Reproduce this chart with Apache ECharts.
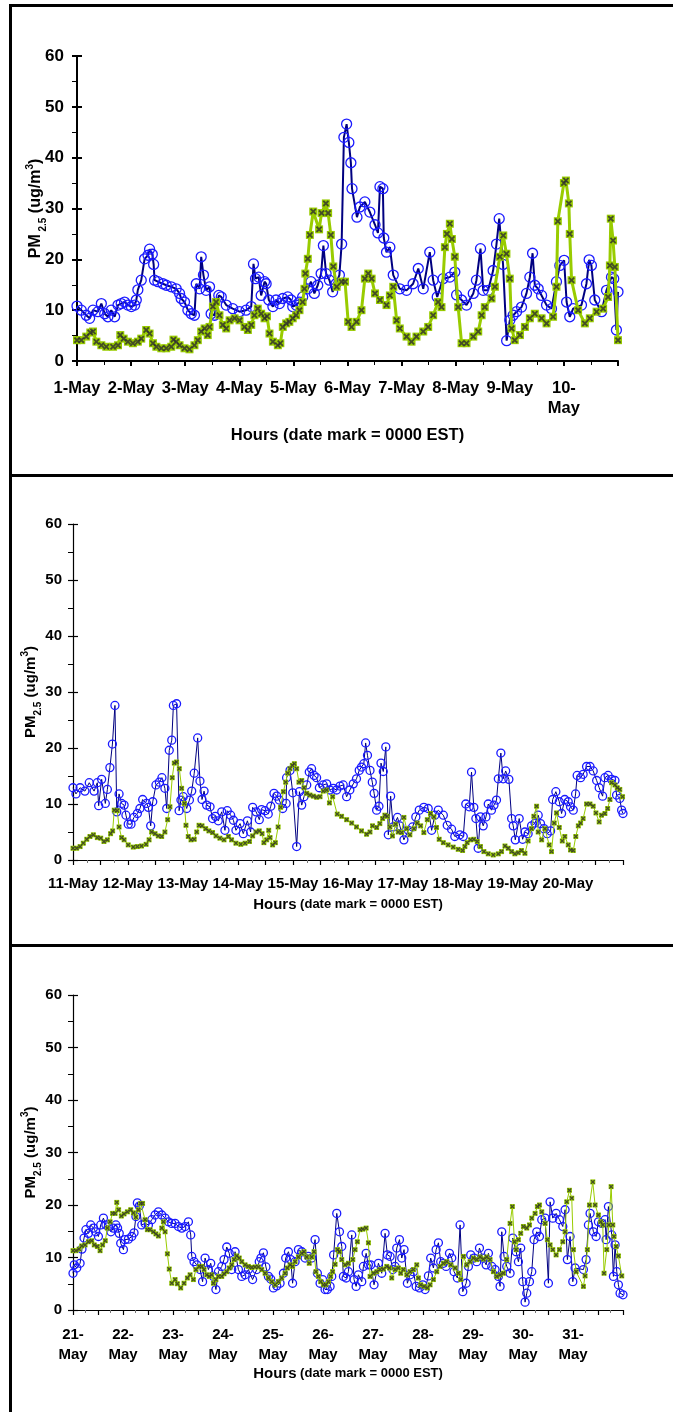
<!DOCTYPE html>
<html><head><meta charset="utf-8">
<script src="https://cdn.jsdelivr.net/npm/echarts@6/dist/echarts.min.js"></script>
<style>html,body{margin:0;padding:0;background:#fff}#c{width:673px;height:1412px}</style>
</head><body><div id="c"></div>
<script>
// ---- tick labels ----
const p1DayLabels = ['1-May','2-May','3-May','4-May','5-May','6-May','7-May','8-May','9-May','10-\nMay'];
const p2DayLabels = ['11-May','12-May','13-May','14-May','15-May','16-May','17-May','18-May','19-May','20-May'];
const p3DayLabels = ['21-\nMay','22-\nMay','23-\nMay','24-\nMay','25-\nMay','26-\nMay','27-\nMay','28-\nMay','29-\nMay','30-\nMay','31-\nMay'];
const yTickValues = [0,10,20,30,40,50,60];

// ---- readings: [hour since first date mark, PM2.5 ug/m3] ----
const p1Blue = [[0,10.8],[1.9,10],[4.1,9],[5.6,8.4],[7.1,10],[9.3,9.7],[10.8,11.3],[12.3,9.3],[13.7,8.7],[15.2,10],[16.7,8.7],[18.2,11],[19.6,11.3],[21.1,11.6],[22.6,11],[24.1,10.7],[25.6,11],[26.3,12],[27,14],[28.5,15.9],[30,20.1],[31.5,20.8],[32.2,22],[33.4,21],[34,19],[34.4,15.9],[35.9,15.6],[38.1,15.2],[39.6,14.9],[41.8,14.6],[44,14.2],[45.5,13.3],[46.2,12.3],[47.7,11.6],[49.2,10],[50.7,9.3],[52.1,9],[52.9,15.2],[54.4,14.2],[55.1,20.5],[56.1,16.9],[57.3,13.9],[58.8,14.6],[59.5,9.3],[61,9],[62.9,12.9],[64,12.6],[66.2,11],[69.1,10.3],[72.1,9.7],[75,10],[77.3,10.7],[78.3,19.1],[79.2,16.2],[80.6,16.5],[81.7,12.9],[83.2,15.6],[83.9,15.2],[85.1,12],[86.9,10.7],[88.3,12],[89.8,11.3],[91.3,12.3],[93.5,12.6],[95,12],[95.7,10.7],[97.2,11],[98.7,11.6],[100.1,12.6],[102.4,14.2],[103.8,15.6],[105.3,13.3],[106.8,14.9],[108.3,17.2],[109.3,22.7],[110.5,17.2],[112,15.9],[113.4,13.6],[114.9,15.2],[116.4,16.9],[117.4,23],[118.4,44],[119.6,46.6],[120.6,43],[121.5,39],[122,33.9],[124.2,28.3],[125.5,30.3],[127.7,31.3],[129.9,29.3],[132.2,26.8],[133.5,25.2],[134.4,34.3],[135.7,33.9],[136.1,24.2],[137.3,21.4],[138.8,22.4],[140.3,16.9],[143.2,14.2],[146.2,13.9],[149.1,15.2],[151.4,18.2],[153.6,14.2],[156.5,21.4],[158,15.9],[159.8,12.6],[162.4,16.2],[165.4,16.5],[167.6,17.5],[168.4,13],[170.6,12],[172.8,11],[175.8,13.3],[177.2,15.9],[179,22.1],[180.2,13.9],[182.4,13.9],[184.6,17.8],[186.1,23],[187.3,28],[189,19],[190.6,4],[192,8],[193.5,9],[195,9.7],[197.2,10.6],[199.4,13.3],[200.9,16.5],[202.1,21.2],[203.1,14.9],[204.6,14.2],[206.1,12.9],[208.3,11],[210.5,10.3],[212.7,15.6],[214.2,18.8],[216.1,19.8],[217.2,11.6],[218.6,8.7],[220.1,10.3],[223.8,11],[226,15.2],[227.2,19.9],[228.2,18.8],[229.7,12],[232.7,9.7],[234.9,13.9],[237.1,16.5],[238.1,16.2],[239.3,6.1],[240,13.6]];
const p1Green = [[0,4.1],[1.9,4.1],[4.1,4.8],[5.9,5.6],[7.1,5.8],[8.6,3.8],[10.8,3.1],[13,2.8],[16,2.8],[18.2,3.1],[19.2,5.1],[20.7,4.4],[22.6,3.8],[24.8,3.5],[27,3.8],[28.5,4.4],[30.7,6.1],[32.2,5.4],[33.7,3.5],[35.2,2.8],[37.4,2.5],[39.6,2.5],[41.8,2.8],[42.8,4.2],[44,3.8],[45.5,3.1],[47.7,2.5],[49.9,2.3],[52.1,3.1],[53.6,4.1],[55.1,5.8],[56.6,6.4],[58,5.1],[58.8,6.7],[60.3,10.7],[61.7,11.6],[63.2,9],[64.7,7.1],[66.2,6.4],[67.7,8],[69.9,8.4],[72.1,8],[74.3,6.7],[75.8,6.1],[77.3,7.1],[78.7,9],[80.2,10.3],[81.7,9.3],[83.2,8.4],[84.3,8.8],[85.4,5.4],[86.9,3.8],[89.1,3.1],[90.2,3.5],[91.3,6.7],[92.8,7.4],[94.2,7.7],[95.7,8.4],[97.2,9],[98.7,10],[100.1,11.6],[100.9,14.2],[101.3,17.2],[102.4,20.1],[103.3,24.8],[104.8,29.4],[107.4,25.9],[108.5,29.1],[110.4,31],[111.4,29.1],[112.6,24.8],[113.7,18.6],[115.2,14.6],[117.4,15.6],[118.9,15.6],[120.3,7.7],[121.8,6.7],[124,7.7],[126.2,10],[127.7,16.2],[129.2,17.2],[130.7,16.2],[132.2,13.3],[134.4,12],[137.3,11],[138.8,12.9],[140.3,14.6],[141.8,8],[143.2,6.4],[146.2,4.8],[148.4,3.8],[150.6,4.8],[153.6,5.8],[155.8,6.7],[158,9],[160.2,11.6],[161.7,10.6],[163.2,22.4],[164.1,25],[165.4,27],[166.3,24],[167.6,20.5],[169.1,10.6],[170.6,3.5],[172.8,3.5],[175.8,4.8],[178,5.8],[179.5,9],[180.9,10.6],[183.9,12.3],[185.4,14.6],[187.6,20.5],[189.1,24.7],[190.5,21.1],[192,16.2],[192.8,6.4],[194.2,4.1],[196.5,5.1],[198.7,6.7],[200.9,8.4],[203.1,9.3],[206.1,8.4],[208.3,7.4],[211.2,8.7],[212.7,14.6],[213.3,27.5],[216,35],[216.9,35.5],[218.2,31],[218.6,25],[219.4,15.9],[222.3,10],[225.3,7.4],[227.5,8.4],[230.5,9.7],[233.4,10.3],[235.6,12.6],[236.4,18.8],[236.8,28],[237.8,23.7],[238.6,18.5],[240,4.1]];

const p2Blue = [[0,12.9],[1.3,11.8],[3.1,12.9],[5.2,12.3],[7.1,13.8],[9.2,12.3],[10.6,13.8],[11.2,9.7],[12.5,14.4],[14.1,10.1],[15,12.6],[16.1,16.5],[17.2,20.7],[18.3,27.6],[19.1,8.6],[20.1,11.8],[21.2,10.1],[22.3,9.8],[23.1,8],[24.1,6.4],[25.3,6.4],[26.6,7.6],[28.1,8.3],[29.2,9.2],[30.4,10.8],[32.1,10.1],[32.9,9.4],[33.9,6.1],[34.8,10.4],[36.2,13.4],[37.7,13.9],[38.8,14.7],[40.1,12.8],[40.9,9.2],[42,19.6],[43.1,21.4],[43.8,27.6],[45.2,27.9],[46.3,8.8],[47.1,10.7],[48.1,11.3],[49.6,9.2],[50.8,10.7],[51.8,12.3],[52.9,15.5],[54.4,21.8],[55.4,14.1],[56.3,10.8],[57.2,12.3],[58.3,9.8],[59.8,9.5],[60.9,7.4],[62.1,7.8],[63.4,7],[64.9,8.6],[66.3,5.3],[67.3,8.8],[68.8,8],[70,7.1],[71.1,5.3],[72.9,6.5],[74.3,4.7],[76.1,7],[77.5,5],[78.4,9.4],[79.9,8.6],[81.3,7.2],[82.3,9],[83.8,8.8],[85.2,8.2],[86.3,9.6],[87.7,11.9],[88.9,11.4],[90,10.7],[91.5,9.2],[93,10.1],[93.2,14.7],[94.7,16],[95.9,12],[97.6,2.4],[98.8,12.2],[99.8,9.8],[100.8,11.3],[102,13.4],[103.1,15.7],[104.1,16.3],[105.2,15.1],[106.3,14.7],[107.5,12.9],[109.2,13.4],[110.7,13.6],[112.1,12.5],[113.6,12.8],[115,12.5],[116.5,13.2],[117.9,13.4],[119.4,11.3],[120.8,12.5],[122.3,13.6],[123.7,14.5],[124.9,16],[125.9,16.6],[126.9,17.2],[127.7,20.9],[128.5,18.7],[129.6,16],[130.6,13.9],[131.4,11.9],[132.5,8.9],[133.5,9.6],[134.4,17.3],[135.4,15.8],[136.5,20.2],[137.6,4.5],[138.6,11.4],[139.7,5.9],[141.6,7.6],[142.6,6.1],[144.4,3.6],[146.3,5.3],[148.2,5.9],[149.6,7.7],[151.1,8.9],[153.1,9.4],[155,9.2],[156.5,5.3],[157.9,8],[159.4,8.9],[161.6,8],[163.3,6.2],[165.2,5.5],[166.6,4.2],[168.8,4.5],[170.3,4.2],[171.4,10],[172.9,9.5],[173.9,15.7],[174.9,9.4],[175.8,7.4],[176.8,2.1],[177.8,7.7],[179,6.1],[180.2,7.7],[181.2,10],[182.6,8.9],[183.7,9.8],[184.8,10.7],[185.6,14.5],[186.7,19.1],[187.7,14.5],[188.8,15.9],[190.2,14.4],[191.4,7.4],[192.1,6.1],[193,3.6],[194.7,7.4],[196.2,3.7],[197.2,5],[198.6,4.7],[200.1,6.1],[201.6,6.6],[203,8],[204,6.5],[205.5,5.6],[206.9,4.7],[208.4,5.2],[209.3,10.8],[210.7,12.2],[212.2,10.4],[213.2,8.3],[214.6,10.8],[216.1,10.4],[217.1,9.5],[218.3,8.9],[219.3,11.8],[220,15.1],[221.5,14.7],[222.6,15.3],[224.1,16.7],[225.6,16.7],[227,15.9],[228.5,14.2],[229.6,12.9],[231.1,11.4],[232.1,14.7],[233.5,15.1],[235,14.4],[236.5,14.2],[237.2,11.6],[238.6,11],[239.4,8.9],[240,8.3]];
const p2Green = [[0,2.1],[1.6,2.1],[3.1,2.4],[4.5,3],[6,3.7],[7.4,4.2],[8.9,4.5],[10.6,4],[12.1,3.9],[13.5,3.3],[15,3.6],[16.4,4.7],[17.3,5.2],[18,8.9],[19.3,8.8],[20.1,5.9],[21.2,4],[22.3,3.6],[24.1,2.7],[26.3,2.3],[28.1,2.4],[29.9,2.5],[31.9,2.8],[33.2,3.6],[34.3,5],[35.8,4.7],[37.2,4.3],[38.7,4.2],[40.1,5],[41.3,7.2],[42.3,9.5],[43.3,14.7],[44.2,17.3],[45.2,17.5],[46.4,16.3],[47.4,12.8],[48.6,10.1],[49.3,6.2],[50.3,4.2],[51.5,3.6],[52.9,3.7],[54,5],[55,6.2],[56.3,6.1],[57.9,5.6],[59.3,5.2],[60.9,4.9],[62.4,4.3],[64.1,3.9],[65.9,3.6],[67.8,4.2],[69.2,3.6],[71.1,3],[73.2,2.8],[75.1,3],[77,3.3],[78.4,4.3],[79.9,5],[81.3,5.2],[82.5,4.7],[83.3,3.1],[84.5,3.6],[85.4,5.3],[86,4],[87.1,2.7],[88.3,3.1],[89.5,5.9],[90.6,9.4],[91.8,12.2],[92.8,13.9],[93.7,15.5],[94.7,16.3],[95.7,16.9],[96.6,17.2],[97.6,16.3],[98.6,13.9],[99.8,14.2],[100.8,12.9],[102,11.9],[103.4,11.6],[104.9,11.4],[106.3,11.2],[107.8,11.3],[109.2,12.3],[110.7,12.5],[111.9,10.2],[113.3,11.3],[115.3,8.2],[117.2,7.8],[119.4,7.2],[121.6,6.6],[123.7,5.9],[125.9,5.2],[128.1,4.6],[129.6,5],[130.7,6.1],[132.5,5.8],[133.9,6.5],[135.1,7.4],[136.1,8],[137.1,7.8],[138.3,5.9],[139.4,4.3],[140.8,6.4],[141.9,5],[143.4,4.9],[144.4,7.6],[145.6,5.6],[147,4.5],[148.8,5.6],[150.2,6.6],[151.7,6.1],[153.1,4.9],[154.6,7.2],[156,8.3],[157.5,7.7],[158.6,5.8],[159.8,3.7],[161.6,3.1],[163.7,2.7],[165.9,2.3],[168.1,1.9],[170,1.7],[171,2.4],[172,3.1],[173.5,3.6],[174.9,3.7],[176.4,3.3],[177.8,2.4],[179.3,1.5],[181.2,1.1],[183.4,0.9],[185.6,1.1],[187,1.5],[188.5,2.5],[189.9,2.1],[191.4,1.5],[192.8,1.1],[194.3,1.3],[195.7,1.7],[197.2,1.2],[198.6,3.4],[200.1,5.6],[201.1,7.8],[202.3,9.6],[203,5],[204.5,3.6],[205.9,5.6],[207.8,2.7],[208.8,1.5],[210,6.6],[211,8.4],[212.2,5.8],[213.5,3.4],[214.6,4.2],[216.1,2.7],[217.1,1.8],[218.3,1.7],[219.4,4.2],[220.5,6.1],[221.5,6.6],[222.6,7.4],[224.1,10],[225.6,10],[227,9.6],[228.2,8.4],[229.6,6.8],[230.6,8],[232.1,8.3],[233.3,9.2],[234.3,10.8],[235,13.8],[236.5,13.4],[237.5,12.9],[238.6,12.6],[239.8,11.3]];

const p3Blue = [[0,7],[0.6,8.6],[1.8,8],[3.4,8.9],[4.3,11.6],[5.3,13.7],[6.2,15.3],[7.4,14.6],[8.5,16.2],[9.8,15.6],[10.9,14.9],[12.2,14],[13.3,16.2],[14.6,17.5],[15.8,16.2],[17,15.9],[18.2,14.9],[19.4,15.6],[20.6,16.2],[21.4,15.6],[22.2,14.6],[22.9,12.7],[24.2,11.5],[25,13.4],[26.6,13.5],[28.2,14],[29.3,14.7],[30.2,17.8],[30.9,20.4],[31.8,19.8],[33,16.2],[34.6,16.5],[36.2,16.2],[37.8,17.2],[39.4,18.1],[41,18.7],[42.6,18.1],[44.2,17.5],[45.8,16.8],[47.4,16.5],[49,16.5],[50.6,15.9],[52.2,15.6],[53.8,15.9],[55.4,16.8],[56.5,14.3],[57,10.2],[58.1,9.2],[59.4,8.6],[61,7.7],[62.2,5.4],[63.4,9.9],[65,7.7],[66.1,8.9],[67.4,6.4],[68.6,3.9],[69.8,7.3],[71.4,8.3],[72.5,9.6],[73.8,12],[75,10.8],[76.2,7.7],[77.8,11.1],[79.4,7.7],[81,6.4],[82.6,6.7],[84.2,7.7],[86.2,5.8],[88.2,7.7],[89.4,9.2],[90.2,9.9],[91.4,10.9],[92.6,8.2],[93.8,6.4],[94.9,5.9],[96.2,4.2],[97.8,4.6],[99.4,5.1],[101,7],[102.1,9.9],[103.4,11.1],[104.5,9.6],[105.4,5.1],[106.6,9.2],[108.2,11.5],[109.8,11.1],[111.4,9.9],[113,10.2],[114.6,9.9],[116.2,13.4],[117.3,7],[118.6,5.1],[119.8,5.8],[121,3.9],[122.1,3.9],[123.4,4.5],[124.2,6.4],[125.1,10.5],[126.6,18.4],[127.9,14.9],[129,12.1],[129.8,6.4],[131.1,6.1],[132.2,7.3],[133.8,14.3],[134.9,5.8],[135.9,4.5],[137,6.7],[138.6,5.4],[139.4,8.3],[140.7,10.8],[141.8,8.6],[142.9,8.6],[144.5,4.8],[146.6,8.9],[148.2,7],[149.8,14.6],[150.9,10.5],[152.2,10.2],[153.5,7.7],[154.6,8.3],[155.4,11.8],[156.7,13.4],[157.8,9.9],[158.9,11.5],[160.5,5.1],[161.8,6.7],[163.4,7.3],[164.7,4.5],[166.3,4.2],[167.9,4.8],[169,3.9],[170.6,6.5],[171.7,9.9],[173,8],[174.3,11.5],[175.4,12.8],[176.5,9.2],[177.8,8.9],[179.1,8.3],[180.7,10.8],[181.8,9.9],[182.9,7.3],[184.5,6.1],[185.8,16.2],[187.1,3.5],[188.7,5.1],[189.8,8.3],[190.9,10.5],[192.5,9.9],[193.8,9.2],[195.1,11.8],[196.7,9.9],[198.3,8.6],[199.4,10.8],[201,8.3],[202.6,7.7],[204.2,6.4],[205,4.5],[205.8,14.9],[206.9,10.2],[208.2,8.3],[209.8,7],[211.1,13.7],[212.7,11.1],[213.8,9.2],[214.9,11.8],[215.9,5.4],[217,1.5],[217.8,3.2],[219.1,5.4],[220.2,7.3],[221.3,13.4],[222.6,14.9],[223.9,14],[225,17.2],[226.6,17.5],[228.2,5.1],[229,20.6],[230.3,17.5],[231.9,18.4],[233.5,17.2],[235.1,15.9],[236.2,19.1],[237.3,9.6],[238.6,14],[239.9,5.4],[241,8],[245,7.7],[246.3,9.6],[247.4,16.2],[248.2,18.4],[249.8,14.9],[251.1,14],[252.2,16.8],[253.8,16.5],[255.4,17.2],[255.9,13.4],[257,19.7],[258.6,14.3],[259.4,6.4],[260.2,12.4],[261,7.3],[261.8,4.8],[262.6,3.2],[264,2.9]];
const p3Green = [[0,11.3],[1.4,11.3],[2.9,11.6],[4.2,12.2],[5.8,12.4],[7.4,13],[9,13.2],[10.2,12.4],[11.7,12.1],[13,11.3],[14.2,12.4],[15.5,13.2],[16.5,15.6],[17.8,16.8],[19,18.4],[20.2,18.4],[21,20.5],[21.9,19.1],[23.2,17.9],[24.5,18.3],[26.1,18.7],[27.7,19.1],[29,18.5],[30.2,17.7],[31.4,19.1],[32.5,20.3],[33.4,20.3],[34.6,17.2],[35.7,15.3],[37,15.3],[38.6,14.9],[39.8,14.5],[41,14.1],[42.6,15.6],[43.4,16.8],[44.2,14.9],[45.3,10.7],[46.2,7.8],[47.4,5.1],[49,5.8],[50.1,5],[51.7,4.2],[53.3,5.1],[54.9,6.1],[56.2,6.7],[57.8,5.8],[59,7.7],[60.6,8.3],[61.8,8.3],[62.9,7.7],[64.2,6.7],[65.4,6.4],[66.6,6.7],[67.4,5.1],[68.6,5.8],[69.8,6.4],[71.4,6.4],[72.5,6.9],[73.8,7.3],[75,8],[76.2,8.6],[77.3,9.6],[78.6,10.3],[79.8,9.9],[81,9.2],[82.6,8.6],[84.2,8.3],[85.8,8.1],[87.4,8.2],[89,8.2],[90.6,7.7],[92.2,7],[93.8,6.1],[95.4,5.4],[97,4.8],[98.6,5.4],[100.2,6.1],[101.8,7],[102.9,8],[104.2,8.6],[105.4,8.3],[106.6,9.2],[108.2,10.1],[109.8,10.8],[110.9,11.1],[112.2,10.1],[113.4,8.9],[114.6,10.1],[115.7,11.1],[116.6,7.3],[117.8,6.4],[118.9,5.4],[120.2,4.8],[121.4,4.8],[122.6,5.4],[123.7,6.4],[124.6,7.3],[125.8,8.7],[127,11.5],[127.9,11.1],[129,9.6],[130.6,8.6],[132.2,8.9],[134.3,9.6],[135.4,11.5],[136.5,13],[137.8,15.3],[139.1,15.4],[140.7,15.6],[141.8,12.8],[142.6,6.4],[144.2,7],[145.8,7.3],[147.4,7.7],[149,7.8],[150.6,8.3],[151.9,8],[153,6.1],[154.6,7.7],[156.2,8],[157.3,7],[158.6,7.7],[160.2,6.7],[161.8,7.3],[163.4,7.7],[165,8.6],[165.8,6.1],[166.9,4.8],[168.5,4.5],[170.1,4.2],[171.4,4.8],[173,5.8],[174.6,7.3],[176.2,8.3],[177.8,8.9],[179.4,9.2],[181.3,8.6],[183.4,8],[185,7],[186.1,5.8],[187.4,10.2],[189,8.6],[190.6,9.2],[192.2,9.9],[193.8,9.6],[195.4,10.1],[197,9.7],[198.6,10.1],[200.2,9.6],[201.8,7.3],[203.4,6.4],[205,6.7],[206.6,7],[208.2,9.6],[209.8,16.5],[210.9,19.7],[211.9,13],[212.7,11.5],[213.8,13.4],[214.9,14.6],[216.2,15.9],[217.8,15.6],[219.1,16.2],[220.2,17.5],[221.8,18.4],[222.9,19.7],[223.9,20],[225,18.7],[226.6,16.5],[227.7,13.4],[229,12.4],[230.3,11.5],[231.9,10.5],[233.5,11.5],[235.1,13],[236.2,14.9],[237,20.6],[238.3,22.8],[239.4,21.3],[240.2,11.5],[241.5,7.3],[245,4.5],[245.8,6.5],[246.9,11.5],[247.9,20],[249.5,24.4],[250.6,20],[252.2,18.1],[253.3,16.8],[254.3,16.2],[254.9,7],[256.2,11.5],[257.2,16.2],[258.3,23.5],[259.1,16.2],[259.7,14],[260.7,12.1],[261.8,10.3],[263.4,6.5]];

// ---- styling ----
const FONT = '"Liberation Sans", Arial, Helvetica, sans-serif';
const XMARK = 'path://M0,2 L2,0 L5,3 L8,0 L10,2 L7,5 L10,8 L8,10 L5,7 L2,10 L0,8 L3,5 Z';

const panels = [
  {grid:{left:77, top:56, width:541, height:305}, xMax:240, xInterval:24, labels:p1DayLabels,
   blue:p1Blue, green:p1Green, axisW:2, yFont:17, yMargin:13, xFont:16.5, xMargin:17, lh:20,
   yName:'{a|PM}{s| 2.5}{a| (ug/m}{p|3}{a|)}', yNameFont:16, yNameGap:31,
   xName:'{h|Hours (date mark = 0000 EST)}', xNameGap:66, xNameSmall:16.5,
   circle:10, lineW:2, rect:8, xs:6.5, greenW:3, minorColor:'#000'},
  {grid:{left:73, top:524, width:550, height:336}, xMax:240, xInterval:12, labels:p2DayLabels,
   blue:p2Blue, green:p2Green, axisW:1.2, yFont:15, yMargin:11, xFont:15, xMargin:15, lh:18,
   yName:'{a|PM}{s|2.5}{a| (ug/m}{p|3}{a|)}', yNameFont:15, yNameGap:32,
   xName:'{h|Hours} {d|(date mark = 0000 EST)}', xNameGap:37, xNameSmall:13,
   circle:8, lineW:1, rect:5, xs:4.5, greenW:1, minorColor:'#777'},
  {grid:{left:73, top:995, width:550, height:315}, xMax:264, xInterval:12, labels:p3DayLabels,
   blue:p3Blue, green:p3Green, axisW:1.2, yFont:15, yMargin:11, xFont:15, xMargin:15, lh:20,
   yName:'{a|PM}{s|2.5}{a| (ug/m}{p|3}{a|)}', yNameFont:15, yNameGap:32,
   xName:'{h|Hours} {d|(date mark = 0000 EST)}', xNameGap:56, xNameSmall:13,
   circle:8, lineW:1, rect:5, xs:4.5, greenW:1, minorColor:'#777'}
];

const grids = [], xAxes = [], yAxes = [], series = [];
panels.forEach((p, i) => {
  grids.push(Object.assign({outerBoundsMode:'none', containLabel:false}, p.grid));
  xAxes.push({
    gridIndex:i, type:'value', min:0, max:p.xMax, interval:p.xInterval,
    axisLine:{show:true, onZero:false, lineStyle:{color:'#000', width:p.axisW}},
    axisTick:{show:true, length:5, lineStyle:{color:'#000', width:p.axisW}},
    minorTick:{show:true, splitNumber:2, length:i===0?4:3, lineStyle:{color:p.minorColor, width:1}},
    splitLine:{show:false}, minorSplitLine:{show:false},
    axisLabel:{show:true, margin:p.xMargin, color:'#000', fontFamily:FONT, fontWeight:'bold',
      fontSize:p.xFont, lineHeight:p.lh, hideOverlap:false, showMinLabel:true, showMaxLabel:true,
      formatter:(v)=> (v % 24 === 0 ? (p.labels[v/24] || '') : '')},
    name:p.xName, nameLocation:'middle', nameGap:p.xNameGap, nameMoveOverlap:false,
    nameTextStyle:{color:'#000', fontFamily:FONT, fontWeight:'bold', fontSize:p.xNameSmall,
      rich:{h:{fontFamily:FONT, fontWeight:'bold', fontSize:i===0?16.5:15, color:'#000'},
            d:{fontFamily:FONT, fontWeight:'bold', fontSize:p.xNameSmall, color:'#000'}}}
  });
  yAxes.push({
    gridIndex:i, type:'value', min:yTickValues[0], max:yTickValues[yTickValues.length-1],
    interval:yTickValues[1]-yTickValues[0], position:'left',
    axisLine:{show:true, onZero:false, lineStyle:{color:'#000', width:p.axisW}},
    axisTick:{show:true, length:5, lineStyle:{color:'#000', width:p.axisW}},
    minorTick:{show:true, splitNumber:2, length:5, lineStyle:{color:'#000', width:1}},
    splitLine:{show:false}, minorSplitLine:{show:false},
    axisLabel:{show:true, margin:p.yMargin, color:'#000', fontFamily:FONT, fontWeight:'bold', fontSize:p.yFont},
    name:p.yName, nameLocation:'middle', nameGap:p.yNameGap, nameMoveOverlap:false,
    nameTextStyle:{color:'#000', fontFamily:FONT, fontWeight:'bold', fontSize:p.yNameFont,
      rich:{a:{fontFamily:FONT, fontWeight:'bold', fontSize:p.yNameFont, color:'#000', lineHeight:20, verticalAlign:'middle'},
            s:{fontFamily:FONT, fontWeight:'bold', fontSize:10, color:'#000', lineHeight:20, verticalAlign:'bottom', padding:[0,0,-2,0]},
            p:{fontFamily:FONT, fontWeight:'bold', fontSize:10, color:'#000', lineHeight:20, verticalAlign:'top', padding:[-1,0,0,0]}}}
  });
  // overlay axis: inward half of the major ticks
  yAxes.push({
    gridIndex:i, type:'value', min:yTickValues[0], max:yTickValues[yTickValues.length-1],
    interval:yTickValues[1]-yTickValues[0], position:'left', offset:0,
    axisLine:{show:false}, axisLabel:{show:false}, splitLine:{show:false},
    axisTick:{show:true, inside:true, length:5, lineStyle:{color:'#000', width:p.axisW}}
  });

  series.push({
    type:'line', xAxisIndex:i, yAxisIndex:2*i, data:p.blue, silent:true,
    symbol:'circle', symbolSize:p.circle, showAllSymbol:true, clip:false,
    lineStyle:{color:'#000080', width:p.lineW},
    itemStyle:{color:'rgba(0,0,0,0)', borderColor:'#1a1aff', borderWidth:1.3},
    emphasis:{disabled:true}, z:2
  });
  series.push({
    type:'line', xAxisIndex:i, yAxisIndex:2*i, data:p.green, silent:true,
    symbol:'rect', symbolSize:p.rect, showAllSymbol:true, clip:false,
    lineStyle:{color:'#99cc00', width:p.greenW},
    itemStyle:{color:'#99cc00', borderWidth:0},
    emphasis:{disabled:true}, z:3
  });
  series.push({
    type:'scatter', xAxisIndex:i, yAxisIndex:2*i, data:p.green, silent:true,
    symbol:XMARK, symbolSize:p.xs, clip:false,
    itemStyle:{color:'#2e2e2e'}, emphasis:{disabled:true}, z:4
  });
});

const chart = echarts.init(document.getElementById('c'), null, {renderer:'canvas', width:673, height:1412});
chart.setOption({
  animation:false,
  backgroundColor:'#ffffff',
  grid:grids, xAxis:xAxes, yAxis:yAxes, series:series,
  graphic:[
    {type:'rect', silent:true, shape:{x:9, y:4, width:3, height:1408}, style:{fill:'#000'}},
    {type:'rect', silent:true, shape:{x:9, y:4, width:664, height:3}, style:{fill:'#000'}},
    {type:'rect', silent:true, shape:{x:9, y:474, width:664, height:3}, style:{fill:'#000'}},
    {type:'rect', silent:true, shape:{x:9, y:944, width:664, height:3}, style:{fill:'#000'}}
  ]
});
</script></body></html>
